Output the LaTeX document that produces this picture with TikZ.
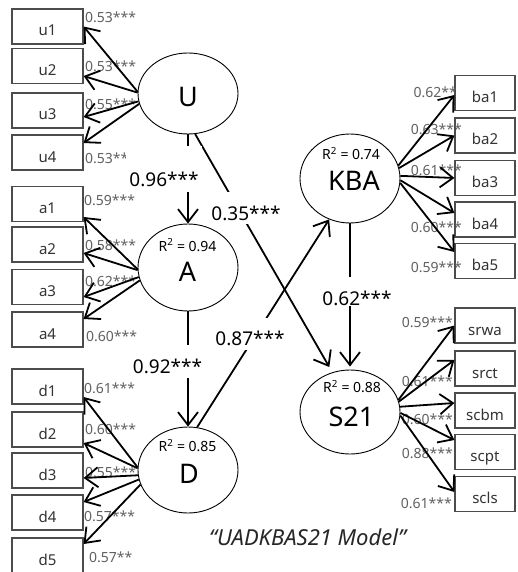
\documentclass[tikz,border=0pt]{standalone}
\usepackage{fontspec}
\setmainfont{Noto Sans}
\usetikzlibrary{arrows.meta,shapes.geometric}
\begin{document}
\begin{tikzpicture}[x=1pt,y=-1pt,
  obs/.style={draw=black!70,line width=1.2pt,minimum width=71pt,minimum height=35pt,inner sep=0pt,
    text=black!80,font=\fontsize{15}{15}\selectfont,text height=19pt,text depth=0pt},
  obsr/.style={obs,minimum width=60pt},
  lat/.style={ellipse,draw=black,line width=0.9pt,minimum width=100pt,inner sep=0pt},
  latname/.style={anchor=base,inner sep=0pt,font=\fontsize{27}{27}\selectfont},
  rsq/.style={anchor=base,inner sep=0pt,font=\fontsize{14}{14}\selectfont},
  ldl/.style={anchor=west,inner sep=0pt,text=black!62,font=\fontsize{14}{14}\selectfont},
  ldr/.style={anchor=east,inner sep=0pt,text=black!62,font=\fontsize{14}{14}\selectfont},
  arr/.style={line width=1.8pt,-{Straight Barb[length=13pt,width=20pt]}},
  pth/.style={line width=1.8pt,-{Straight Barb[length=13pt,width=20pt]}},
  coef/.style={anchor=base,fill=white,inner xsep=3pt,inner ysep=0pt,font=\bfseries\fontsize{19}{19}\selectfont},
]
\useasboundingbox (0,0) rectangle (517,572);
\fill[white] (0,0) rectangle (517,572);

% latent variables
\node[lat,minimum height=81pt] (U) at (188,93.5) {};
\node[lat,minimum height=87pt] (A) at (188,267.5) {};
\node[lat,minimum height=86pt] (D) at (188,470) {};
\node[lat,minimum height=89pt] (KBA) at (350,178.5) {};
\node[lat,minimum height=84pt] (S21) at (350,412) {};

\node[latname] (Ut) at (188,106.5) {U};
\node[latname] (At) at (187.5,281.5) {A};
\node[rsq] (Ar) at (187.5,251) {R\textsuperscript{2} = 0.94};
\node[latname] (Dt) at (189,483) {D};
\node[rsq] (Dr) at (187.5,451.5) {R\textsuperscript{2} = 0.85};
\node[latname] (Kt) at (354,190) {KBA};
\node[rsq] (Kr) at (351,160) {R\textsuperscript{2} = 0.74};
\node[latname] (St) at (351.5,426.5) {S21};
\node[rsq] (Sr) at (352,392.5) {R\textsuperscript{2} = 0.88};

% observed variables (left)
\node[obs] (u1) at (47.5,26.5) {u1};
\node[obs] (u2) at (47.5,66) {u2};
\node[obs] (u3) at (47.5,110.5) {u3};
\node[obs] (u4) at (47.5,152.5) {u4};
\node[obs] (a1) at (47.5,204) {a1};
\node[obs] (a2) at (47.5,244.5) {a2};
\node[obs] (a3) at (47.5,287) {a3};
\node[obs] (a4) at (47.5,329.5) {a4};
\node[obs] (d1) at (47.5,386.5) {d1};
\node[obs] (d2) at (47.5,429.5) {d2};
\node[obs] (d3) at (47.5,470.5) {d3};
\node[obs] (d4) at (47.5,512.5) {d4};
\node[obs] (d5) at (47.5,555.5) {d5};

% observed variables (right)
\node[obsr] (ba1) at (485,93) {ba1};
\node[obsr] (ba2) at (485,135.5) {ba2};
\node[obsr] (ba3) at (485,178) {ba3};
\node[obsr] (ba4) at (485,219.5) {ba4};
\node[obsr] (ba5) at (485,261) {ba5};
\node[obsr] (srwa) at (485,325.5) {srwa};
\node[obsr] (srct) at (485,368.5) {srct};
\node[obsr] (scbm) at (485,410.5) {scbm};
\node[obsr] (scpt) at (485,452) {scpt};
\node[obsr] (scls) at (485,494) {scls};

% loadings (left)
\node[ldl] (lu1) at (85,17) {0.53***};
\node[ldl] (lu2) at (85,66) {0.53***};
\node[ldl] (lu3) at (85,104) {0.55***};
\node[ldl] (lu4) at (85,158) {0.53***};
\node[ldl] (la1) at (84,200) {0.59***};
\node[ldl] (la2) at (85,245) {0.58***};
\node[ldl] (la3) at (85,281) {0.62***};
\node[ldl] (la4) at (86,336) {0.60***};
\node[ldl] (ld1) at (84,388) {0.61***};
\node[ldl] (ld2) at (85,429) {0.60***};
\node[ldl] (ld3) at (85,472) {0.55***};
\node[ldl] (ld4) at (84,516) {0.57***};
\node[ldl] (ld5) at (89,557) {0.57**};

% loadings (right)
\node[ldr] (lb1) at (457,92) {0.62**};
\node[ldr] (lb2) at (462,129) {0.63***};
\node[ldr] (lb3) at (462,170) {0.61***};
\node[ldr] (lb4) at (462,227) {0.60***};
\node[ldr] (lb5) at (462,267) {0.59***};
\node[ldr] (ls1) at (453,322) {0.59***};
\node[ldr] (ls2) at (453,381) {0.61***};
\node[ldr] (ls3) at (453,419) {0.60***};
\node[ldr] (ls4) at (453,453) {0.88***};
\node[ldr] (ls5) at (452,503) {0.61***};

% measurement arrows
\draw[arr] (U.178) -- (u1.east);
\draw[arr] (U.179) -- ([yshift=-10pt]u2.east);
\draw[arr] (U.189) -- ([yshift=-6.5pt]u3.east);
\draw[arr] (U.192) -- ([yshift=9.5pt]u4.east);
\draw[arr] (A.182) -- ([yshift=-13pt]a1.east);
\draw[arr] (A.183) -- ([yshift=-8.5pt]a2.east);
\draw[arr] (A.191) -- ([yshift=-10pt]a3.east);
\draw[arr] (A.195) -- ([yshift=10.5pt]a4.east);
\draw[arr] (D.177) -- ([yshift=-10.5pt]d1.east);
\draw[arr] (D.178) -- ([yshift=-13.5pt]d2.east);
\draw[arr] (D.186) -- ([yshift=-7.5pt]d3.east);
\draw[arr] (D.191) -- ([yshift=10.5pt]d4.east);
\draw[arr] (D.197) -- ([yshift=11.5pt]d5.east);
\draw[arr] (KBA.15) -- ([yshift=-2pt]ba1.west);
\draw[arr] (KBA.12) -- (ba2.west);
\draw[arr] (KBA.3) -- (ba3.west);
\draw[arr] (KBA.-2) -- ([yshift=6.5pt]ba4.west);
\draw[arr] (KBA.-5) -- ([yshift=9pt]ba5.west);
\draw[arr] (S21.14) -- (srwa.west);
\draw[arr] (S21.12) -- ([yshift=8.5pt]srct.west);
\draw[arr] (S21.6) -- ([yshift=7.5pt]scbm.west);
\draw[arr] (S21.-1) -- ([yshift=12pt]scpt.west);
\draw[arr] (S21.-4) -- ([yshift=2pt]scls.west);

% structural paths
\draw[pth] (U.south) -- (A.north);
\draw[pth] (A.south) -- (D.north);
\draw[pth,shorten >=6pt] (U.-80) -- (S21.114);
\draw[pth] (D.78) -- (KBA.243);
\draw[pth,shorten >=3pt] (KBA.south) -- (S21.north);

\node[coef,text height=40pt,text depth=6pt] (c1) at (164,186) {0.96***};
\node[coef,text height=28pt,text depth=4pt] (c2) at (246,220) {0.35***};
\node[coef,text height=28pt,text depth=5pt] (c3) at (167.5,373) {0.92***};
\node[coef,text height=27pt,text depth=5pt] (c4) at (250,345) {0.87***};
\node[coef,text height=28pt,text depth=1pt] (c5) at (357,305) {0.62***};

\node[anchor=base,inner sep=0pt,text=black!85,font=\itshape\fontsize{22}{22}\selectfont] (title) at (307.5,545) {“UADKBAS21 Model”};
\end{tikzpicture}
\end{document}
